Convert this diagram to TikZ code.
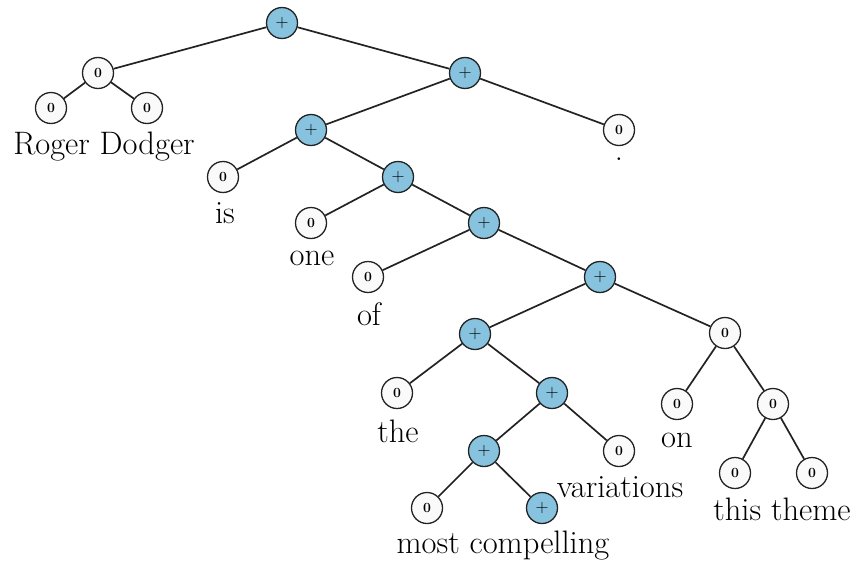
\documentclass[tikz,border=0pt]{standalone}
\definecolor{plusblue}{RGB}{135,195,222}
\definecolor{zerofill}{RGB}{250,250,250}
\definecolor{edgegray}{RGB}{35,35,35}
\tikzset{
  plusnode/.style={circle,draw=edgegray,line width=1.3pt,fill=plusblue,minimum size=31pt,inner sep=0pt,font=\fontsize{18}{18}\selectfont},
  zeronode/.style={circle,draw=edgegray,line width=1.3pt,fill=zerofill,minimum size=31pt,inner sep=0pt,font=\bfseries\fontsize{14}{14}\selectfont},
  word/.style={anchor=base,inner sep=0pt,font=\fontsize{32.5}{38}\selectfont},
  link/.style={draw=edgegray,line width=1.7pt}
}
\begin{document}
\begin{tikzpicture}[x=1pt,y=-1pt]
\useasboundingbox (0,0) rectangle (859,562);
% nodes
\node[plusnode] (r) at (282,23) {+};
\node[zeronode] (a) at (98,73) {0};
\node[zeronode] (a1) at (51,108) {0};
\node[zeronode] (a2) at (147,108) {0};
\node[plusnode] (b) at (465,73) {+};
\node[plusnode] (c) at (311,130) {+};
\node[zeronode] (dot) at (619,130) {0};
\node[zeronode] (is) at (223,177) {0};
\node[plusnode] (d) at (398,177) {+};
\node[zeronode] (one) at (311,223) {0};
\node[plusnode] (e) at (484,223) {+};
\node[zeronode] (of) at (368,277) {0};
\node[plusnode] (f) at (600,277) {+};
\node[plusnode] (g) at (475,334) {+};
\node[zeronode] (h) at (725,333) {0};
\node[zeronode] (the) at (397,393) {0};
\node[plusnode] (i) at (552,393) {+};
\node[zeronode] (on) at (677,404) {0};
\node[zeronode] (j) at (773,404) {0};
\node[plusnode] (k) at (484,451) {+};
\node[zeronode] (var) at (619,451) {0};
\node[zeronode] (this) at (735,473) {0};
\node[zeronode] (theme) at (812,473) {0};
\node[zeronode] (most) at (427,508) {0};
\node[plusnode] (comp) at (542,508) {+};
% edges
\draw[link] (r) -- (a);
\draw[link] (r) -- (b);
\draw[link] (a) -- (a1);
\draw[link] (a) -- (a2);
\draw[link] (b) -- (c);
\draw[link] (b) -- (dot);
\draw[link] (c) -- (is);
\draw[link] (c) -- (d);
\draw[link] (d) -- (one);
\draw[link] (d) -- (e);
\draw[link] (e) -- (of);
\draw[link] (e) -- (f);
\draw[link] (f) -- (g);
\draw[link] (f) -- (h);
\draw[link] (g) -- (the);
\draw[link] (g) -- (i);
\draw[link] (i) -- (k);
\draw[link] (i) -- (var);
\draw[link] (h) -- (on);
\draw[link] (h) -- (j);
\draw[link] (j) -- (this);
\draw[link] (j) -- (theme);
\draw[link] (k) -- (most);
\draw[link] (k) -- (comp);
% words
\node[word] (wRoger) at (104,154) {Roger Dodger};
\node[word] (wdot) at (619,160) {.};
\node[word] (wis) at (225,223) {is};
\node[word] (wone) at (312,265) {one};
\node[word] (wof) at (369,325) {of};
\node[word] (wthe) at (398,442) {the};
\node[word] (won) at (677,447) {on};
\node[word] (wvar) at (620,497) {variations};
\node[word] (wthis) at (782,520) {this theme};
\node[word] (wmost) at (503,553) {most compelling};
\end{tikzpicture}
\end{document}
